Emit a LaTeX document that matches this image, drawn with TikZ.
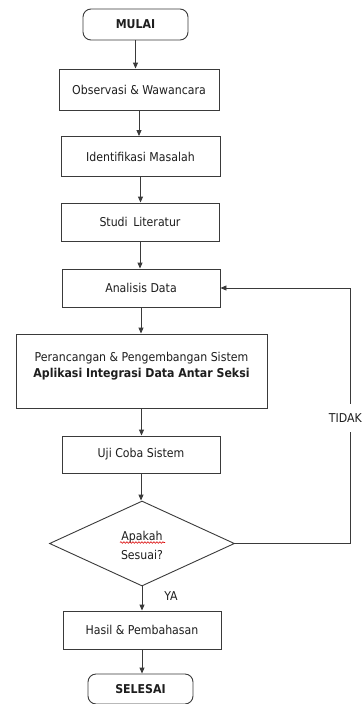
\documentclass[tikz,border=0pt]{standalone}
\usepackage{fontspec}
\setmainfont{DejaVu Sans Condensed}
\usetikzlibrary{shapes.geometric,arrows.meta,decorations.pathmorphing}
\definecolor{ln}{HTML}{3A3A3A}
\definecolor{tx}{HTML}{1E1E1E}
\begin{document}
\begin{tikzpicture}[x=1pt,y=-1pt,
  font=\fontsize{12.2}{15}\selectfont, text=tx,
  box/.style={draw=ln, line width=0.9pt, rectangle, inner sep=0pt, align=center},
  term/.style={box, rounded corners=8pt},
  arr/.style={draw=ln, line width=0.9pt, -{Triangle[length=6pt,width=5pt]}}]
\useasboundingbox (0,0) rectangle (363,704);
\fill[white] (0,0) rectangle (363,704);
\node[term, minimum width=105pt, minimum height=31pt] (mulai) at (135.5,24.5) {\bfseries MULAI};
\node[box, minimum width=160pt, minimum height=41pt] (obs) at (139,89.5) {Observasi \& Wawancara};
\node[box, minimum width=159pt, minimum height=40pt] (iden) at (140.5,156.5) {Identifikasi Masalah};
\node[box, minimum width=158pt, minimum height=38pt] (studi) at (140,222) {Studi\, Literatur};
\node[box, minimum width=158pt, minimum height=38pt] (anal) at (141,288) {Analisis Data};
\node[box, minimum width=251pt, minimum height=74pt] (peran) at (141.5,371) {};
\node[align=center, inner sep=0pt] (perantxt) at (141.5,366) {Perancangan \& Pengembangan Sistem\\[1pt]\bfseries Aplikasi Integrasi Data Antar Seksi};
\node[box, minimum width=158pt, minimum height=37pt] (uji) at (141,454.5) {Uji Coba Sistem};
\node[draw=ln, line width=0.9pt, diamond, minimum width=185pt, minimum height=85pt, inner sep=0pt, align=center] (dec) at (142,543.5) {};
\node[align=center, inner sep=0pt] (dectxt) at (142,545.5) {Apakah\\[4pt]Sesuai?};
\node[box, minimum width=158pt, minimum height=38pt] (hasil) at (142,630) {Hasil \& Pembahasan};
\node[term, minimum width=105pt, minimum height=30pt] (selesai) at (140.5,689) {\bfseries SELESAI};
\draw[red!85!black, line width=0.6pt, decorate, decoration={snake, amplitude=0.8pt, segment length=3pt}] (120,542.5) -- (165,542.5);
\draw[arr] (mulai.south) -- (mulai.south |- obs.north);
\draw[arr] (obs.south) -- (obs.south |- iden.north);
\draw[arr] (iden.south) -- (iden.south |- studi.north);
\draw[arr] (studi.south) -- (studi.south |- anal.north);
\draw[arr] (anal.south) -- (anal.south |- peran.north);
\draw[arr] (peran.south) -- (peran.south |- uji.north);
\draw[arr] (uji.south) -- (uji.south |- dec.north);
\draw[arr] (dec.south) -- (dec.south |- hasil.north);
\draw[arr] (hasil.south) -- (hasil.south |- selesai.north);
\coordinate (c1) at (350,543.5);
\coordinate (c2) at (350,288);
\draw[arr] (dec.east) -- (c1) -- (c2) -- (anal.east);
\node[fill=white, inner xsep=0.5pt, minimum height=28pt, anchor=east] (tidak) at (362.5,418) {TIDAK};
\node[inner sep=0pt] (ya) at (171,596) {YA};
\end{tikzpicture}
\end{document}
